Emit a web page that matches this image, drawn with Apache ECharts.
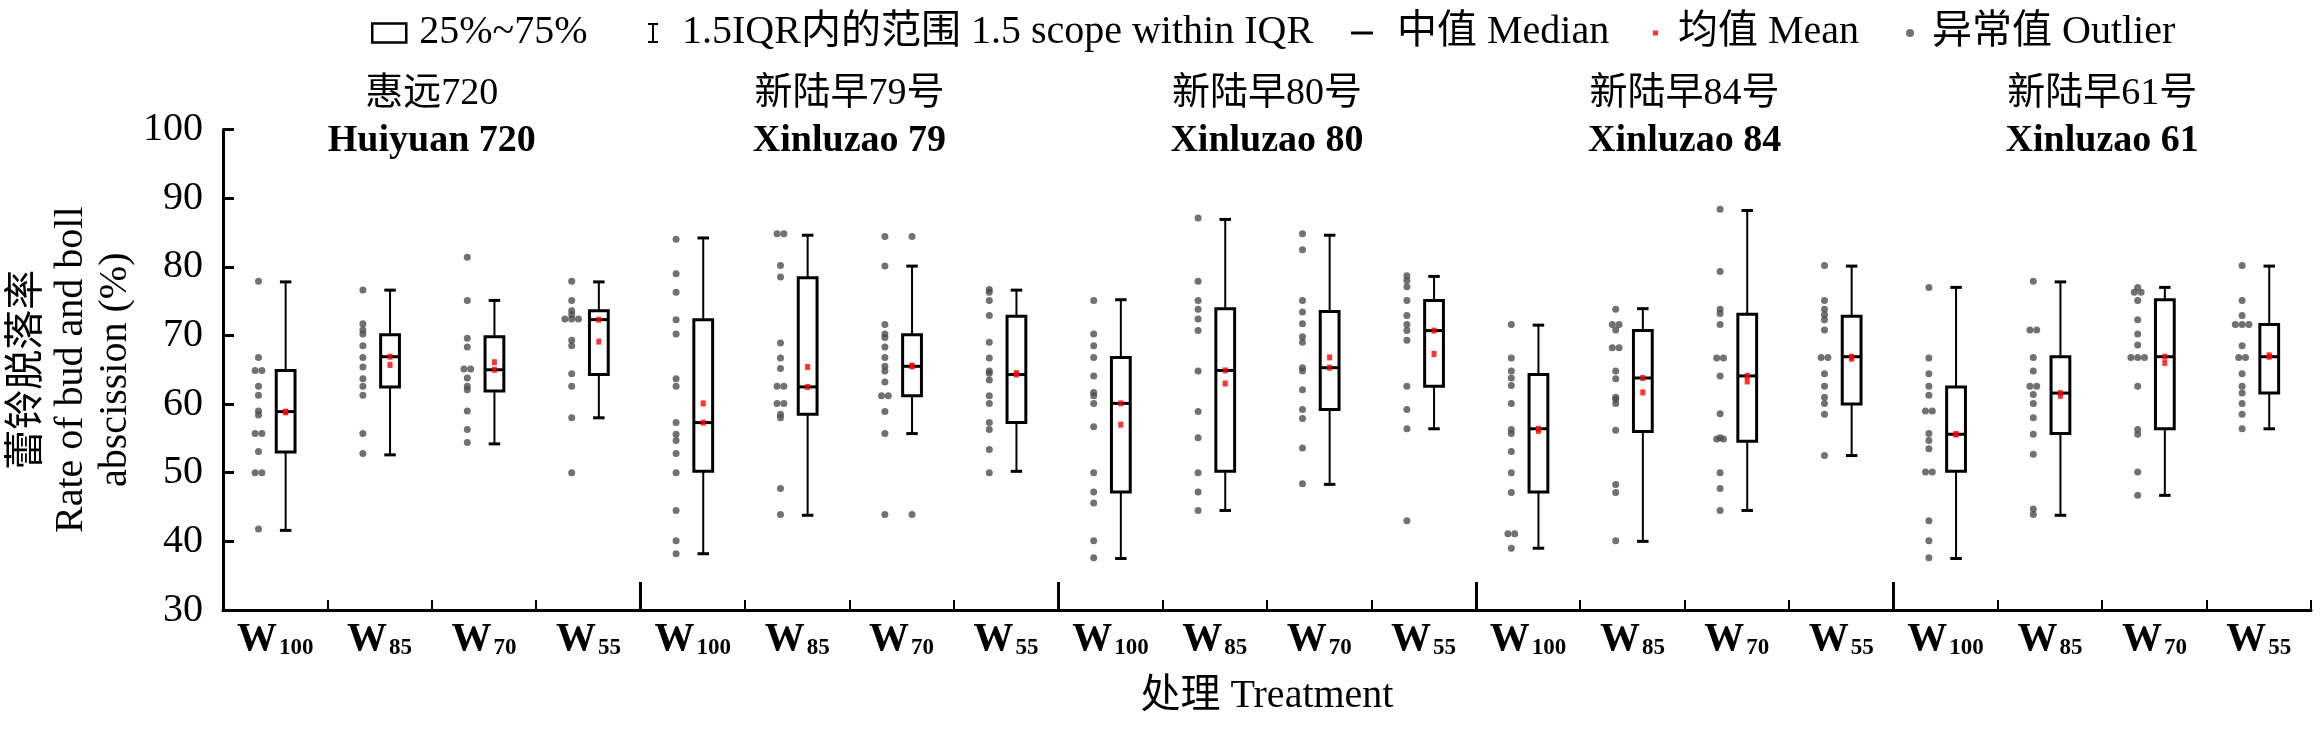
<!DOCTYPE html>
<html><head><meta charset="utf-8">
<script src="https://cdn.jsdelivr.net/npm/echarts@6/dist/echarts.min.js"></script>
<style>html,body{margin:0;padding:0;background:#fff}#c{width:2320px;height:729px}</style>
</head><body><div id="c"></div>
<script>
// ---------------- data ----------------
const groupCN = ['惠远720', '新陆早79号', '新陆早80号', '新陆早84号', '新陆早61号'];
const groupEN = ['Huiyuan 720', 'Xinluzao 79', 'Xinluzao 80', 'Xinluzao 84', 'Xinluzao 61'];
const treatments = ['100', '85', '70', '55'];
const categories = [];
groupCN.forEach(() => treatments.forEach(t => categories.push('W' + t)));
const yTicks = [30, 40, 50, 60, 70, 80, 90, 100];

const whiskerHigh = [77.8, 76.6, 75.1, 77.8,  84.2, 84.6, 80.1, 76.6,  75.2, 86.9, 84.6, 78.6,  71.5, 73.9, 88.2, 80.1,  77.0, 77.8, 77.0, 80.1];
const q3          = [64.9, 70.1, 69.8, 73.6,  72.3, 78.4, 70.1, 72.8,  66.8, 73.9, 73.5, 75.1,  64.3, 70.7, 73.1, 72.8,  62.5, 66.9, 75.2, 71.6];
const median      = [58.9, 66.9, 65.0, 72.3,  57.3, 62.5, 65.5, 64.3,  60.1, 64.9, 65.3, 70.7,  56.4, 63.8, 64.1, 66.9,  55.6, 61.6, 66.9, 66.9];
const q1          = [53.0, 62.5, 61.9, 64.3,  50.2, 58.5, 61.2, 57.3,  47.2, 50.2, 59.2, 62.6,  47.2, 56.0, 54.6, 60.0,  50.2, 55.7, 56.4, 61.6];
const whiskerLow  = [41.6, 52.6, 54.2, 58.0,  38.2, 43.8, 55.7, 50.2,  37.5, 44.5, 48.3, 56.4,  39.0, 40.0, 44.5, 52.5,  37.5, 43.8, 46.7, 56.4];
const means       = [58.8, 65.7, 66.1, 69.1,  60.1, 65.4, 65.6, 64.5,  57.0, 63.0, 66.8, 67.3,  56.1, 61.7, 63.3, 66.6,  55.6, 61.2, 66.0, 67.1];

const samples = [
  [77.9, 66.8, 64.9, 64.9, 62.6, 61.3, 59.0, 58.4, 55.7, 55.7, 53.1, 50.0, 50.0, 41.8],
  [76.6, 71.7, 70.8, 70.2, 68.5, 66.8, 65.4, 63.7, 62.6, 61.3, 55.7, 52.8],
  [81.4, 75.1, 69.6, 68.3, 65.1, 65.1, 63.8, 62.6, 62.1, 59.0, 56.3, 54.4],
  [77.9, 75.1, 73.6, 73.0, 72.4, 72.4, 72.4, 69.3, 68.5, 64.4, 62.6, 58.0, 50.0],
  [84.0, 79.0, 76.3, 72.3, 70.2, 63.7, 62.6, 57.3, 55.6, 54.7, 52.8, 50.0, 44.5, 40.1, 38.2],
  [84.8, 84.8, 80.2, 78.5, 68.9, 66.7, 65.2, 62.6, 62.6, 60.1, 60.1, 58.5, 58.0, 47.7, 43.9],
  [84.4, 80.1, 71.6, 70.2, 69.7, 68.3, 66.8, 65.5, 64.8, 63.2, 61.2, 61.2, 58.9, 55.7, 43.9],
  [76.7, 76.3, 75.1, 72.9, 69.0, 66.7, 64.8, 64.5, 63.5, 61.2, 60.1, 57.3, 56.3, 53.4, 50.0],
  [75.1, 70.2, 68.5, 66.8, 64.1, 61.7, 61.2, 60.1, 56.7, 50.0, 47.2, 45.6, 40.1, 37.6],
  [87.1, 77.9, 75.1, 73.8, 72.4, 70.7, 64.8, 58.9, 55.1, 50.0, 47.2, 44.5],
  [84.8, 82.5, 75.1, 73.4, 71.7, 69.8, 69.0, 65.3, 64.8, 62.1, 59.2, 57.9, 53.6, 48.4],
  [78.7, 78.0, 77.1, 75.1, 72.9, 71.6, 70.7, 69.3, 62.6, 59.2, 56.4, 43.0],
  [71.6, 66.7, 64.8, 63.8, 62.7, 60.1, 56.3, 55.7, 53.1, 50.0, 47.1, 41.1, 41.1, 39.0],
  [73.8, 71.6, 71.6, 70.8, 68.2, 68.2, 64.8, 63.7, 61.0, 60.7, 60.1, 56.2, 48.3, 47.1, 40.1],
  [88.4, 79.3, 73.8, 73.2, 71.6, 66.7, 66.7, 64.1, 58.6, 55.1, 54.9, 54.9, 50.0, 47.7, 44.5],
  [80.2, 75.1, 73.8, 73.0, 72.3, 70.8, 66.8, 66.8, 64.4, 62.6, 61.0, 60.1, 58.5, 52.5],
  [77.0, 66.7, 64.4, 62.6, 61.3, 59.0, 59.0, 55.7, 54.7, 53.5, 50.1, 50.1, 43.0, 40.1, 37.6],
  [77.9, 70.8, 70.8, 66.8, 64.8, 62.6, 62.6, 61.4, 60.1, 58.0, 55.6, 52.7, 44.7, 43.9],
  [77.0, 76.3, 76.3, 75.1, 72.3, 70.2, 68.6, 66.8, 66.8, 66.8, 62.6, 56.3, 55.6, 50.1, 46.7],
  [80.2, 75.1, 72.9, 71.6, 71.6, 71.6, 68.5, 66.8, 66.8, 64.4, 62.6, 61.6, 60.1, 58.5, 56.4]
];
// outliers drawn on the box column (beyond whiskers)
const boxOutliers = [[], [], [], [],  [], [], [84.4, 43.9], [],  [], [], [], [],  [], [], [], [],  [], [], [], []];

// ---------------- layout / style ----------------
const SERIF = "'Liberation Serif','Times New Roman','Noto Sans CJK SC',serif";
const BOX_OFF = 0.60, PT_OFF = 0.34, BOX_HALF = 0.09, CAP_HALF = 0.055, DUP_STEP = 0.065;

const boxData = [], whiskerData = [], medianData = [], meanData = [], medMarkData = [], pointData = [];
for (let i = 0; i < categories.length; i++) {
  const xc = i + BOX_OFF;
  boxData.push([xc, q1[i], q3[i]]);
  whiskerData.push([xc, whiskerLow[i], q1[i], q3[i], whiskerHigh[i]]);
  medianData.push([xc, median[i]]);
  meanData.push([xc, means[i]]);
  medMarkData.push([xc, median[i]]);
  const counts = {};
  samples[i].forEach(v => { counts[v] = (counts[v] || 0) + 1; });
  const seen = {};
  samples[i].forEach(v => {
    const k = seen[v] || 0; seen[v] = k + 1;
    const off = (k - (counts[v] - 1) / 2) * DUP_STEP;
    pointData.push([i + PT_OFF + off, v]);
  });
  boxOutliers[i].forEach(v => pointData.push([xc, v]));
}

const NAME_BOX = '25%~75%';
const NAME_WHISK = '1.5IQR内的范围 1.5 scope within IQR';
const NAME_MED = '中值 Median';
const NAME_MEAN = '均值 Mean';
const NAME_OUT = '异常值 Outlier';

const chart = echarts.init(document.getElementById('c'), null, { renderer: 'canvas' });

const legendText = (pad) => ({ fontFamily: SERIF, fontSize: 40, color: '#000', padding: [0, 0, 0, pad] });

const option = {
  animation: false,
  backgroundColor: '#fff',
  textStyle: { fontFamily: SERIF },
  legend: [
    { left: 366, top: 8, selectedMode: false, itemWidth: 34, itemHeight: 19, textStyle: legendText(8),
      data: [{ name: NAME_BOX, icon: 'rect', itemStyle: { color: '#fff', borderColor: '#000', borderWidth: 2.5 } }] },
    { left: 643, top: 8, selectedMode: false, itemWidth: 10, itemHeight: 20, textStyle: legendText(19),
      data: [{ name: NAME_WHISK, icon: 'path://M0,0H10V2H6V18H10V20H0V18H4V2H0Z', itemStyle: { color: '#000' } }] },
    { left: 1346, top: 8, selectedMode: false, itemWidth: 22, itemHeight: 3, textStyle: legendText(19),
      data: [{ name: NAME_MED, icon: 'path://M0,0H22V3H0Z', itemStyle: { color: '#000' } }] },
    { left: 1648, top: 8, selectedMode: false, itemWidth: 5, itemHeight: 5, textStyle: legendText(15),
      data: [{ name: NAME_MEAN, icon: 'rect', itemStyle: { color: '#ff0000' } }] },
    { left: 1901, top: 8, selectedMode: false, itemWidth: 8, itemHeight: 8, textStyle: legendText(13),
      data: [{ name: NAME_OUT, icon: 'circle', itemStyle: { color: '#4d4d4d' } }] }
  ],
  grid: { left: 223, right: 9, top: 129.5, bottom: 119, containLabel: false, outerBoundsMode: 'none' },
  xAxis: [
    {
      type: 'category', data: categories, boundaryGap: true,
      axisLine: { lineStyle: { color: '#000', width: 3 } },
      axisTick: { show: true, inside: true, length: 10, lineStyle: { color: '#000', width: 2 } },
      axisLabel: {
        margin: 10, interval: 0,
        formatter: v => '{w|W}{s|' + v.slice(1) + '}',
        rich: {
          w: { fontFamily: SERIF, fontSize: 40, fontWeight: 'bold', color: '#000', lineHeight: 40 },
          s: { fontFamily: SERIF, fontSize: 23, fontWeight: 'bold', color: '#000', lineHeight: 23, verticalAlign: 'bottom', padding: [6, 0, 0, 2] }
        }
      },
      name: '处理 Treatment', nameLocation: 'middle', nameGap: 66,
      nameTextStyle: { fontFamily: SERIF, fontSize: 40, color: '#000' }
    },
    {
      type: 'value', min: 0, max: 20, position: 'bottom',
      axisLine: { show: false },
      axisLabel: { show: false },
      splitLine: { show: false },
      axisTick: { show: true, inside: true, length: 28, customValues: [4, 8, 12, 16], lineStyle: { color: '#000', width: 3 } }
    }
  ],
  yAxis: {
    type: 'value', min: yTicks[0], max: yTicks[yTicks.length - 1], interval: 10,
    axisLine: { show: true, lineStyle: { color: '#000', width: 3 } },
    axisTick: { show: true, inside: true, length: 11, lineStyle: { color: '#000', width: 3 } },
    axisLabel: { margin: 20, fontFamily: SERIF, fontSize: 40, color: '#000' },
    splitLine: { show: false },
    name: '蕾铃脱落率\nRate of bud and boll\nabscission (%)',
    nameLocation: 'middle', nameRotate: 90, nameGap: 86, nameMoveOverlap: false,
    nameTextStyle: { fontFamily: SERIF, fontSize: 40, color: '#000', lineHeight: 44, align: 'center' }
  },
  series: [
    {
      type: 'custom', name: NAME_WHISK, xAxisIndex: 1, data: whiskerData, encode: { x: 0, y: [1, 4] }, z: 2,
      renderItem: (params, api) => {
        const x = api.value(0);
        const hi = api.coord([x, api.value(4)]), up = api.coord([x, api.value(3)]);
        const dn = api.coord([x, api.value(2)]), lo = api.coord([x, api.value(1)]);
        const cw = api.size([CAP_HALF, 0])[0];
        const ls = { stroke: '#000', lineWidth: 2 };
        const cs = { stroke: '#000', lineWidth: 3 };
        return { type: 'group', children: [
          { type: 'line', shape: { x1: hi[0], y1: hi[1], x2: up[0], y2: up[1] }, style: ls },
          { type: 'line', shape: { x1: dn[0], y1: dn[1], x2: lo[0], y2: lo[1] }, style: ls },
          { type: 'line', shape: { x1: hi[0] - cw, y1: hi[1], x2: hi[0] + cw, y2: hi[1] }, style: cs },
          { type: 'line', shape: { x1: lo[0] - cw, y1: lo[1], x2: lo[0] + cw, y2: lo[1] }, style: cs }
        ] };
      }
    },
    {
      type: 'custom', name: NAME_BOX, xAxisIndex: 1, data: boxData, encode: { x: 0, y: [1, 2] }, z: 3,
      renderItem: (params, api) => {
        const x = api.value(0);
        const a = api.coord([x, api.value(2)]);
        const b = api.coord([x, api.value(1)]);
        const hw = api.size([BOX_HALF, 0])[0];
        return { type: 'rect', shape: { x: a[0] - hw, y: a[1], width: 2 * hw, height: b[1] - a[1] },
                 style: { fill: '#fff', stroke: '#000', lineWidth: 3 } };
      }
    },
    {
      type: 'custom', name: NAME_MED, xAxisIndex: 1, data: medianData, encode: { x: 0, y: 1 }, z: 4,
      renderItem: (params, api) => {
        const x = api.value(0);
        const p = api.coord([x, api.value(1)]);
        const hw = api.size([BOX_HALF, 0])[0];
        return { type: 'line', shape: { x1: p[0] - hw, y1: p[1], x2: p[0] + hw, y2: p[1] }, style: { stroke: '#000', lineWidth: 3 } };
      }
    },
    {
      type: 'scatter', name: 'median-mark', xAxisIndex: 1, data: medMarkData, z: 5,
      symbol: 'rect', symbolSize: [5, 6], itemStyle: { color: '#ff0000' }
    },
    {
      type: 'scatter', name: NAME_MEAN, xAxisIndex: 1, data: meanData, z: 6,
      symbol: 'rect', symbolSize: [5, 6], itemStyle: { color: '#ff0000' }
    },
    {
      type: 'scatter', name: NAME_OUT, xAxisIndex: 1, data: pointData, z: 5,
      symbol: 'circle', symbolSize: 7, itemStyle: { color: '#4d4d4d' }
    }
  ]
};
chart.setOption(option);

// group titles centred over each group of four treatments
const graphics = [];
groupCN.forEach((cn, g) => {
  const cx = chart.convertToPixel({ xAxisIndex: 1 }, g * treatments.length + treatments.length / 2);
  graphics.push({ type: 'text', x: cx, y: 94, silent: true,
    style: { text: cn, fontFamily: SERIF, fontSize: 38, fill: '#000', textAlign: 'center', textVerticalAlign: 'middle' } });
  graphics.push({ type: 'text', x: cx, y: 141, silent: true,
    style: { text: groupEN[g], fontFamily: SERIF, fontSize: 38, fontWeight: 'bold', fill: '#000', textAlign: 'center', textVerticalAlign: 'middle' } });
});
chart.setOption({ graphic: graphics });
</script>
</body></html>
